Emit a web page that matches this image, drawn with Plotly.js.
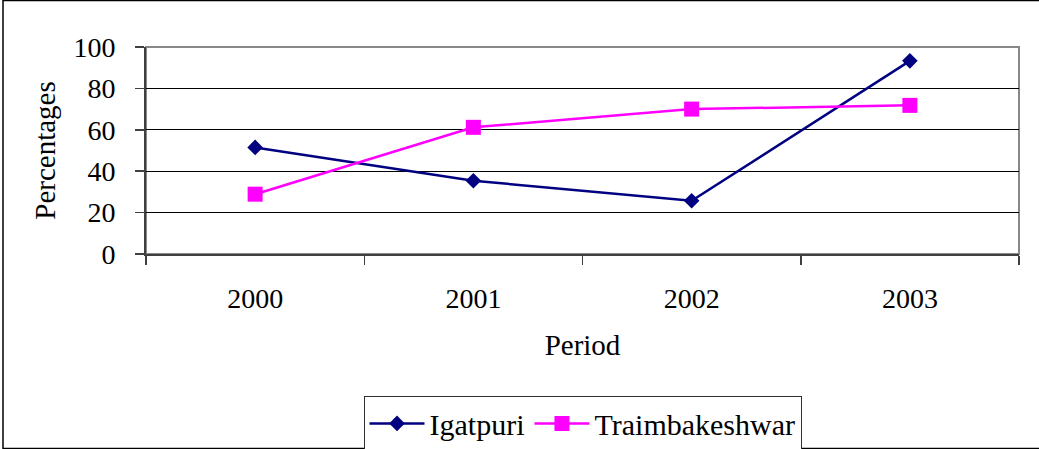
<!DOCTYPE html>
<html>
<head>
<meta charset="utf-8">
<script src="https://cdn.plot.ly/plotly-3.0.1.min.js"></script>
<style>html,body{margin:0;padding:0;background:#fff;}#chart{width:1039px;height:449px;}</style>
</head>
<body>
<div id="chart"></div>
<script>
const periods = ["2000", "2001", "2002", "2003"];
const igatpuri = [51.5, 35.4, 25.7, 93.3];
const traimbakeshwar = [28.9, 61.2, 70.0, 71.8];
const yTicks = [0, 20, 40, 60, 80, 100];

const FONT = "'Times New Roman', 'Liberation Serif', serif";

const traces = [
  {
    x: periods, y: igatpuri, name: "Igatpuri", type: "scatter", mode: "lines+markers",
    line: {color: "#000080", width: 2.5},
    marker: {symbol: "diamond", size: 12, color: "#000080"}
  },
  {
    x: periods, y: traimbakeshwar, name: "Traimbakeshwar", type: "scatter", mode: "lines+markers",
    line: {color: "#FF00FF", width: 2.5},
    marker: {symbol: "square", size: 15, color: "#FF00FF"}
  }
];

const layout = {
  width: 1039, height: 449,
  margin: {l: 146, r: 20, t: 47, b: 195, autoexpand: false},
  paper_bgcolor: "#fff", plot_bgcolor: "#fff",
  font: {family: FONT, size: 29, color: "#000"},
  showlegend: true,
  legend: {
    orientation: "h", x: 0.5, xanchor: "center", xref: "paper",
    y: -0.688, yanchor: "top", yref: "paper",
    bordercolor: "#303030", borderwidth: 1, bgcolor: "#fff",
    font: {family: FONT, size: 30, color: "#000"},
    itemwidth: 55, tracegroupgap: 0
  },
  xaxis: {
    type: "category", range: [-0.5, 3.5],
    showgrid: false, zeroline: false,
    showline: true, linecolor: "#404040", linewidth: 2,
    ticks: "outside", tickson: "boundaries", ticklen: 9, tickcolor: "#404040", tickwidth: 1.5,
    ticklabelstandoff: 18,
    tickfont: {family: FONT, size: 28, color: "#000"},
    title: {text: "Period", font: {family: FONT, size: 29, color: "#000"}, standoff: 22}
  },
  yaxis: {
    range: [0, 100], tickvals: yTicks, ticktext: yTicks.map(String),
    showgrid: true, gridcolor: "#000", gridwidth: 1,
    zeroline: false,
    showline: true, linecolor: "#404040", linewidth: 2,
    ticks: "outside", ticklen: 9, tickcolor: "#404040", tickwidth: 1.5,
    ticklabelstandoff: 14,
    tickfont: {family: FONT, size: 28, color: "#000"},
    title: {text: "Percentages", font: {family: FONT, size: 29, color: "#000"}, standoff: 9}
  },
  shapes: [
    {type: "rect", xref: "paper", yref: "paper", x0: 0, x1: 1, y0: 0, y1: 1,
     line: {color: "#888", width: 2}, layer: "below"},
    {type: "rect", xref: "paper", yref: "paper", x0: -0.1638, x1: 1.03, y0: -0.9395, y1: 1.2252,
     line: {color: "#000", width: 1.5}, layer: "below"}
  ]
};

Plotly.newPlot("chart", traces, layout, {displayModeBar: false, staticPlot: true});
</script>
</body>
</html>
